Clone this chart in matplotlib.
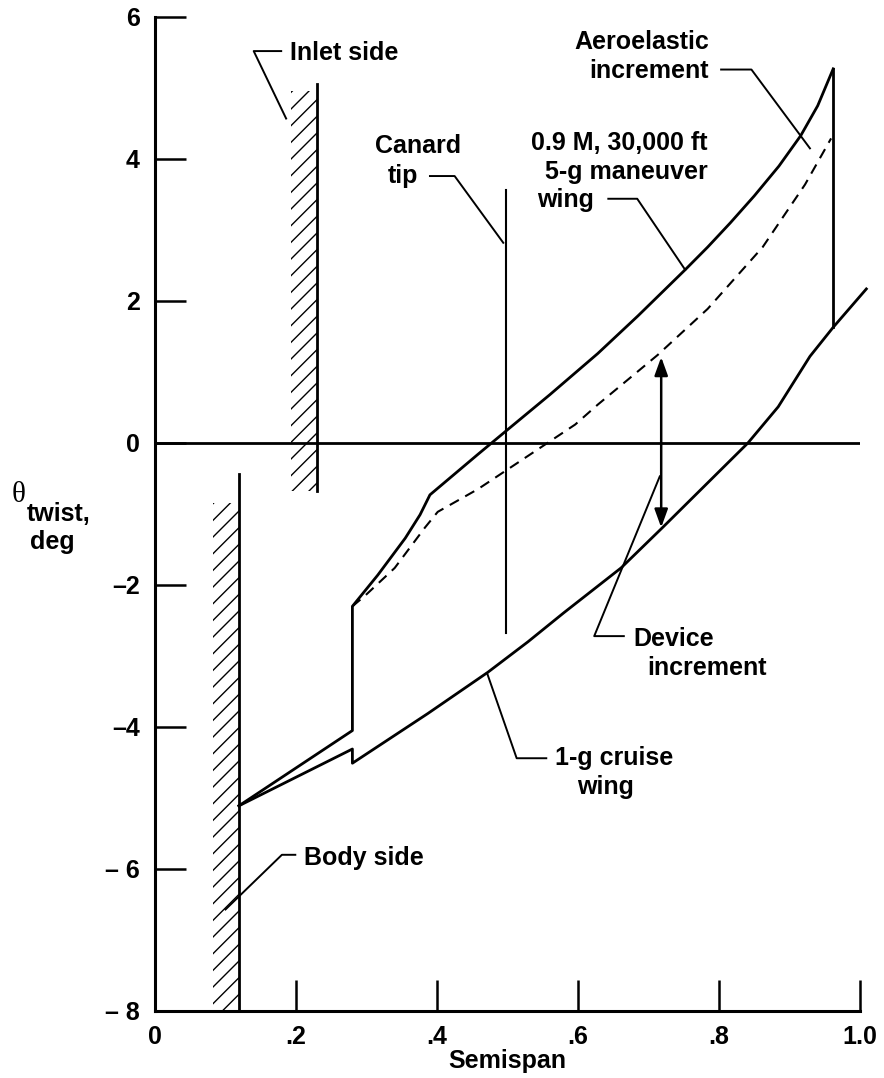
import numpy as np
import matplotlib
matplotlib.use('Agg')
import matplotlib.pyplot as plt
from matplotlib.patches import Rectangle

plt.rcParams['font.family'] = ['Liberation Sans', 'DejaVu Sans']
plt.rcParams['font.weight'] = 'bold'
plt.rcParams['axes.labelweight'] = 'bold'
plt.rcParams['hatch.linewidth'] = 1.0

fsize = 18

# 0.9 M, 30,000 ft 5-g maneuver wing
man_x = [0.119, 0.28, 0.28, 0.316, 0.355, 0.376, 0.39, 0.458, 0.498, 0.56, 0.628, 0.685, 0.752, 0.784,
         0.816, 0.85, 0.885, 0.916, 0.94, 0.962]
man_y = [-5.11, -4.05, -2.30, -1.86, -1.34, -1.01, -0.73, -0.16, 0.17, 0.68, 1.26, 1.79, 2.44, 2.76,
         3.10, 3.48, 3.90, 4.33, 4.75, 5.27]

# maneuver wing without aeroelastic increment (dashed)
dash_x = [0.28, 0.298, 0.34, 0.383, 0.401, 0.458, 0.496, 0.596, 0.628, 0.713, 0.784, 0.862, 0.922, 0.959]
dash_y = [-2.30, -2.15, -1.76, -1.19, -0.97, -0.65, -0.40, 0.26, 0.54, 1.24, 1.89, 2.76, 3.64, 4.29]

# 1-g cruise wing
cru_x = [0.119, 0.28, 0.28, 0.387, 0.472, 0.529, 0.58, 0.661, 0.72, 0.78, 0.841, 0.884, 0.929, 0.962, 1.009]
cru_y = [-5.11, -4.31, -4.51, -3.81, -3.23, -2.80, -2.39, -1.76, -1.19, -0.60, 0.0, 0.51, 1.22, 1.63, 2.17]

# reference lines
body_x = 0.119
body_y = (-8.0, -0.43)
inlet_x = 0.23
inlet_y = (-0.68, 5.06)
canard_x = 0.498
canard_y = (-2.67, 3.57)
aero_x = 0.962
aero_y = (1.63, 5.27)
device_x = 0.718
device_y = (-1.19, 1.21)

xticks = [0, 0.2, 0.4, 0.6, 0.8, 1.0]
xticklabels = ['0', '.2', '.4', '.6', '.8', '1.0']
yticks = [6, 4, 2, 0, -2, -4, -6, -8]
yticklabels = ['6', '4', '2', '0', '\u20132', '\u20134', '\u2013 6', '\u2013 8']

fig = plt.figure(figsize=(8.84, 10.78), dpi=100)
ax = fig.add_axes([155/884, 1 - 1011/1078, 705/884, 994/1078])
ax.set_xlim(0, 1.0)
ax.set_ylim(-8, 6)

for s in ['top', 'right']:
    ax.spines[s].set_visible(False)
for s in ['left', 'bottom']:
    ax.spines[s].set_linewidth(2.2)

ax.set_xticks(xticks)
ax.set_xticklabels(xticklabels, fontsize=fsize)
ax.set_yticks(yticks)
ax.set_yticklabels(yticklabels, fontsize=fsize)
ax.tick_params(axis='both', direction='in', length=22, width=1.8, color='black')
ax.tick_params(axis='y', pad=11)
ax.tick_params(axis='x', pad=10)
ax.set_xlabel('Semispan', fontsize=fsize, labelpad=0)

# y label
ax.text(-0.193, -0.73, '\u03b8', fontsize=21, fontweight='normal', family='Liberation Serif',
        ha='center', va='center', clip_on=False)
ax.text(-0.182, -1.0, 'twist,', fontsize=fsize, ha='left', va='center', clip_on=False)
ax.text(-0.146, -1.39, 'deg', fontsize=fsize, ha='center', va='center', clip_on=False)

# zero line
ax.axhline(0, color='black', lw=2.0)

# hatched walls
ax.add_patch(Rectangle((0.082, -8.0), body_x - 0.082, -0.84 + 8.0, fill=False,
                       hatch='//', edgecolor='black', linewidth=0, clip_on=False))
ax.add_patch(Rectangle((0.193, -0.68), inlet_x - 0.193, 4.96 + 0.68, fill=False,
                       hatch='//', edgecolor='black', linewidth=0, clip_on=False))
ax.plot([body_x, body_x], body_y, color='black', lw=2.0)
ax.plot([inlet_x, inlet_x], inlet_y, color='black', lw=2.0)

# curves
ax.plot(man_x, man_y, color='black', lw=2.0, clip_on=False, solid_joinstyle='round')
ax.plot(dash_x, dash_y, color='black', lw=1.5, dashes=(5, 3.5), clip_on=False)
ax.plot(cru_x, cru_y, color='black', lw=2.0, clip_on=False, solid_joinstyle='round')

ax.plot([canard_x, canard_x], canard_y, color='black', lw=1.5)
ax.plot([aero_x, aero_x], aero_y, color='black', lw=2.0)
ax.annotate('', xy=(device_x, device_y[1]), xytext=(device_x, device_y[0]),
            arrowprops=dict(arrowstyle='<|-|>,head_length=0.55,head_width=0.2',
                            color='black', lw=1.8, shrinkA=0, shrinkB=0, mutation_scale=20))

# leaders
leaders = [
    ([0.186, 0.140, 0.179], [4.57, 5.52, 5.52]),
    ([0.100, 0.180, 0.199], [-6.57, -5.80, -5.80]),
    ([0.494, 0.425, 0.390], [2.82, 3.76, 3.76]),
    ([0.752, 0.684, 0.643], [2.44, 3.44, 3.44]),
    ([0.929, 0.846, 0.803], [4.15, 5.26, 5.26]),
    ([0.716, 0.623, 0.665], [-0.47, -2.72, -2.72]),
    ([0.471, 0.513, 0.555], [-3.24, -4.44, -4.44]),
]
for lx, ly in leaders:
    ax.plot(lx, ly, color='black', lw=1.4, clip_on=False)

# labels
ax.text(0.191, 5.50, 'Inlet side', fontsize=fsize, ha='left', va='center')
ax.text(0.211, -5.85, 'Body side', fontsize=fsize, ha='left', va='center')
ax.text(0.373, 4.18, 'Canard', fontsize=fsize, ha='center', va='center')
ax.text(0.352, 3.76, 'tip', fontsize=fsize, ha='center', va='center')
ax.text(0.784, 4.22, '0.9 M, 30,000 ft', fontsize=fsize, ha='right', va='center')
ax.text(0.784, 3.81, '5-g maneuver', fontsize=fsize, ha='right', va='center')
ax.text(0.542, 3.42, 'wing', fontsize=fsize, ha='left', va='center')
ax.text(0.786, 5.65, 'Aeroelastic', fontsize=fsize, ha='right', va='center')
ax.text(0.786, 5.24, 'increment', fontsize=fsize, ha='right', va='center')
ax.text(0.678, -2.76, 'Device', fontsize=fsize, ha='left', va='center')
ax.text(0.698, -3.17, 'increment', fontsize=fsize, ha='left', va='center')
ax.text(0.567, -4.44, '1-g cruise', fontsize=fsize, ha='left', va='center')
ax.text(0.599, -4.85, 'wing', fontsize=fsize, ha='left', va='center')

plt.savefig('out.png', dpi=100)
